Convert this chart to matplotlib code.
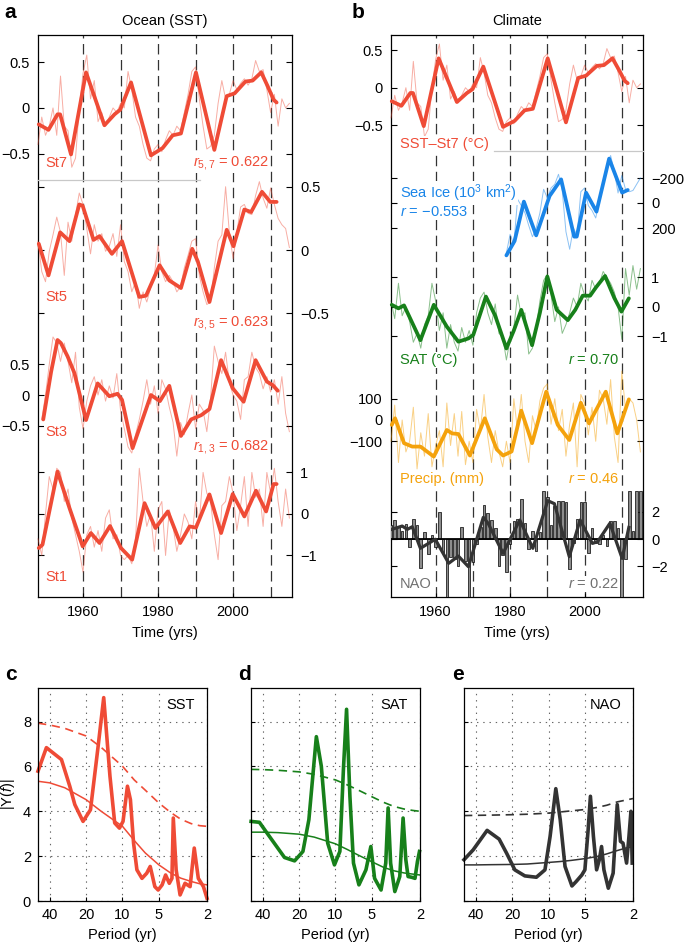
import matplotlib
matplotlib.use('Agg')
import matplotlib.pyplot as plt

plt.rcParams['font.family'] = ['Liberation Sans', 'DejaVu Sans']
plt.rcParams['font.size'] = 10
plt.rcParams['mathtext.fontset'] = 'custom'
plt.rcParams['mathtext.rm'] = 'Liberation Sans'
plt.rcParams['mathtext.it'] = 'Liberation Sans:italic'
plt.rcParams['mathtext.bf'] = 'Liberation Sans:bold'
plt.rcParams['lines.scale_dashes'] = False

# ---------------- data ----------------
years = list(range(1948, 2016))
time_ticks = [1960, 1980, 2000]
dashed_years = [1960, 1970, 1980, 1990, 2000, 2010]

st7_raw = [-0.40, -0.10, -0.30, -0.20, 0.00, -0.30, 0.35, -0.20, -0.25, -0.65,
           -0.55, 0.00, 0.38, 0.58, 0.10, 0.30, -0.15, -0.05, -0.20, -0.10,
           0.00, -0.05, 0.05, 0.00, 0.40, 0.20, -0.10, -0.20, -0.40, -0.55,
           -0.58, -0.45, -0.40, -0.48, -0.35, -0.25, -0.30, -0.20, -0.25, -0.05,
           0.15, 0.40, 0.45, 0.10, -0.20, -0.45, -0.42, -0.30, 0.05, 0.30,
           0.10, 0.15, 0.30, 0.20, 0.27, 0.32, 0.25, 0.32, 0.52, 0.40,
           0.42, 0.20, -0.05, 0.15, -0.20, 0.10, 0.00, 0.05]
st7_sm_yr = [1948.2, 1950.8, 1953.2, 1953.9, 1956.8, 1960.8, 1965.7, 1968.4, 1969.9, 1972.8, 1978.1, 1981.2,
             1983.9, 1986.1, 1990.1, 1995.0, 1998.3, 2000.4, 2003.3, 2005.2, 2007.5, 2009.2, 2010.8, 2011.6]
st7_sm_val = [-0.18, -0.24, -0.07, -0.07, -0.51, 0.39, -0.19, -0.07, -0.02, 0.28, -0.52, -0.44,
              -0.30, -0.28, 0.39, -0.46, 0.13, 0.16, 0.29, 0.30, 0.39, 0.24, 0.09, 0.06]

st5_raw = [0.07, -0.17, -0.25, -0.01, 0.12, 0.26, 0.14, -0.20, 0.22, 0.07,
           0.28, 0.45, 0.36, 0.17, -0.03, 0.20, 0.07, 0.13, -0.01, 0.03,
           0.13, -0.05, 0.20, -0.09, -0.17, -0.33, -0.25, -0.46, -0.33, -0.41,
           -0.30, -0.20, 0.04, -0.17, -0.25, -0.20, -0.25, -0.33, -0.29, -0.14,
           -0.04, 0.07, 0.09, -0.20, -0.33, -0.43, -0.41, -0.14, 0.07, 0.12,
           0.50, 0.14, -0.07, 0.14, 0.34, 0.36, 0.29, 0.28, 0.43, 0.54,
           0.41, 0.33, 0.49, 0.36, 0.25, 0.20, 0.17, 0.02]
st5_sm_yr = [1948.2, 1950.8, 1953.9, 1956.4, 1959.0, 1959.9, 1962.8, 1964.4, 1967.7, 1970.4, 1975.0, 1976.8, 1980.4,
             1983.0, 1986.1, 1989.1, 1990.6, 1993.7, 1998.3, 2000.1, 2003.0, 2004.8, 2007.7, 2009.9, 2011.6]
st5_sm_val = [0.05, -0.20, 0.14, 0.07, 0.36, 0.35, 0.08, 0.11, -0.03, 0.07, -0.37, -0.36, -0.12,
              -0.24, -0.30, 0.01, -0.09, -0.41, 0.16, 0.03, 0.32, 0.30, 0.46, 0.38, 0.38]

st3_years = list(range(1949, 2016))
st3_raw = [-0.40, 0.00, 0.50, 0.95, 0.85, 0.55, 0.85, 0.55, 0.20, 0.70,
           -0.20, -0.55, -0.10, 0.15, 0.30, 0.00, 0.25, -0.10, 0.15, -0.05,
           0.35, -0.25, -0.55, -0.85, -0.95, -0.65, -0.40, -0.10, 0.25, -0.15,
           0.15, -0.30, 0.25, 0.10, -0.20, -0.45, -1.00, -0.45, -0.65, -0.30,
           0.00, -0.55, -0.15, -0.25, -0.60, -0.05, 0.80, 0.55, 0.35, 0.70,
           0.20, 0.00, -0.10, -0.40, 0.25, 0.30, 0.70, 0.45, 0.35, 0.10,
           0.30, 0.05, 0.25, -0.15, 0.30, -0.30, -0.60]
st3_sm_yr = [1949.4, 1951.5, 1953.2, 1954.1, 1955.9, 1957.7, 1960.8, 1963.9, 1967.0, 1969.2, 1970.4, 1973.2, 1978.1,
             1980.5, 1983.0, 1986.1, 1988.8, 1991.5, 1993.7, 1996.8, 1999.9, 2002.8, 2006.0, 2009.0, 2010.6, 2011.9]
st3_sm_val = [-0.40, 0.38, 0.90, 0.85, 0.63, 0.36, -0.41, 0.19, -0.02, 0.02, -0.08, -0.87, 0.00,
              -0.10, 0.15, -0.67, -0.40, -0.33, -0.23, 0.57, 0.11, -0.11, 0.57, 0.22, 0.16, 0.07]

st1_raw = [-0.6, -1.0, 0.0, 0.9, 0.6, 1.1, 1.0, 0.3, 0.6, -0.1,
           -0.5, -0.9, -1.4, -0.5, -0.3, -0.8, -0.4, -0.9, -0.1, 0.1,
           -0.6, -0.5, -1.0, -1.1, -1.0, -1.2, -0.6, 1.1, 0.3, -0.3,
           0.0, -0.9, 0.1, 0.3, -1.0, 0.1, -0.3, -0.9, -0.5, 0.0,
           -0.2, -0.6, 0.3, -0.2, 1.0, 0.5, 0.3, -0.5, -1.1, 0.2,
           0.3, 0.9, 0.5, -0.4, 0.2, 0.9, -0.3, 1.0, 0.4, 0.6,
           -0.3, 1.0, 0.5, 1.1, 0.3, -0.3, 0.6, -0.1]
st1_sm_yr = [1948.2, 1949.2, 1953.2, 1956.4, 1959.9, 1962.1, 1964.4, 1967.2, 1970.1, 1973.1, 1976.4, 1979.3,
             1982.6, 1985.9, 1988.4, 1990.1, 1993.7, 1996.8, 1999.9, 2003.0, 2006.1, 2008.8, 2010.8, 2011.6]
st1_sm_val = [-0.82, -0.74, 1.02, 0.14, -0.78, -0.46, -0.70, -0.29, -0.82, -1.10, 0.26, -0.34,
              0.06, -0.70, -0.30, -0.33, 0.47, -0.46, 0.48, -0.06, 0.56, 0.06, 0.72, 0.72]

ice_years = list(range(1979, 2016))
ice_raw = [400, 250, 330, -30, 20, 80, 180, 270, 200, 80,
           -110, -40, -120, -150, -230, -100, 230, 370, 200, 260,
           -90, -120, 20, 60, 120, -30, -140, -300, -380, -250,
           -80, -220, -110, -90, -100, -150, -200]
ice_sm_yr = [1979.0, 1981.2, 1983.7, 1987.0, 1990.6, 1993.7, 1997.2, 1997.9, 2000.4, 2003.2, 2006.6, 2010.1, 2011.6]
ice_sm_val = [419, 304, -11, 259, -56, -189, 269, 269, -83, 69, -355, -83, -104]

sat_raw = [0.2, -0.4, 0.8, -0.3, 0.0, -0.5, -1.2, -0.9, -1.4, -0.6,
           -0.3, 0.8, 0.2, -0.8, -0.2, -1.4, -0.6, -1.2, -1.5, -0.7,
           -1.2, -0.8, -1.3, -0.2, 0.3, 0.5, -0.2, -0.6, 0.1, -0.9,
           -1.0, -1.8, -1.1, -0.7, 0.4, -0.3, -0.2, -1.6, -1.4, -0.7,
           0.2, 0.9, 1.1, 0.4, -0.5, 0.0, -0.9, -0.6, -0.2, 0.3,
           0.0, 0.8, 0.4, 0.2, 0.9, 0.6, 0.8, 1.2, 1.0, 0.8,
           0.5, 0.0, -1.1, 1.3, 0.4, 1.4, 0.6, 1.3]
sat_sm_yr = [1948.2, 1950.0, 1951.5, 1953.0, 1955.9, 1959.5, 1963.0, 1966.1, 1968.8, 1970.1, 1973.5, 1976.0,
             1979.0, 1981.0, 1983.0, 1985.9, 1988.0, 1990.0, 1992.5, 1995.5, 1997.5, 1999.5, 2001.5, 2003.0,
             2005.5, 2008.0, 2009.9, 2011.9]
sat_sm_val = [0.07, -0.05, 0.05, -0.35, -1.13, 0.07, -0.67, -1.18, -1.07, -0.95, 0.35, -0.30,
              -1.41, -0.80, -0.10, -1.30, -0.20, 1.03, -0.10, -0.45, -0.10, 0.38, 0.38, 0.65,
              1.05, 0.30, -0.16, 0.29]

precip_raw = [-100, 70, -200, 0, -150, -100, 60, -230, -60, -170,
              30, -220, -120, -50, -220, 80, -120, 30, -170, 40,
              -210, -100, -200, 50, -50, 120, -80, -200, -50, -150,
              -220, -100, -200, 100, -50, 120, -100, -200, 20, -50,
              90, 150, 170, -20, 100, -50, 50, -170, -20, 80,
              -220, 120, 80, -70, 60, -100, 140, 100, -20, 190,
              -80, -200, 230, 50, 100, 80, 0, -150]
precip_sm_yr = [1948.2, 1949.1, 1951.5, 1953.7, 1955.9, 1959.5, 1963.0, 1964.4, 1966.1, 1969.2, 1973.2, 1976.4,
                1978.1, 1980.4, 1983.0, 1985.9, 1989.7, 1992.8, 1995.9, 1999.0, 2001.2, 2005.7, 2008.8, 2011.9]
precip_sm_val = [-23, 8, -109, -125, -125, -172, -47, -63, -66, -167, 8, -138,
                 -167, -148, 44, -109, 133, -23, -94, 81, -16, 133, -63, 97]

nao_raw = [1.0, 1.4, 0.9, 0.6, 1.1, -0.6, 1.5, 1.0, -2.1, 0.5,
           -1.1, 0.3, -0.6, 2.0, -1.0, -4.5, -1.3, -1.5, -2.0, 0.9,
           -1.6, -4.5, -1.7, -0.4, 0.9, 2.5, 1.9, 1.4, 0.8, -2.0,
           -1.2, -2.4, -0.4, 1.3, 1.5, 2.9, 1.2, -0.7, 0.6, -0.9,
           0.5, 3.5, 3.1, 1.0, 2.4, 2.8, 2.8, 2.7, -2.2, -0.3,
           1.5, 2.7, 2.7, -1.0, 0.8, -0.3, -0.4, 0.3, -0.5, 1.3,
           1.3, 0.8, -4.6, -1.5, 3.5, 0.6, 3.5, 3.5]
nao_sm_yr = [1948.2, 1951.0, 1952.4, 1953.7, 1955.9, 1959.9, 1963.5, 1966.1, 1968.8, 1972.8, 1974.1, 1978.1,
             1982.6, 1986.1, 1990.1, 1991.9, 1995.9, 1998.8, 2002.1, 2003.5, 2006.8, 2010.1, 2011.9]
nao_sm_val = [0.71, 0.95, 0.71, 0.90, -0.68, -0.02, -1.78, -1.25, -2.03, 1.59, 1.15, -1.05,
              1.39, -0.68, 2.81, 2.59, -1.29, 1.39, -0.32, -0.20, 1.15, -1.42, 0.85]

# spectra (period in years, amplitude |Y(f)|)
period_ticks = [40, 20, 10, 5, 2]
sst_spec_p = [50, 42.6, 32.0, 27.3, 24.8, 21.2, 18.4, 15.9, 14.3, 12.7, 11.6, 10.6, 9.9, 9.1, 8.6, 8.1, 7.6,
              6.9, 6.3, 5.9, 5.4, 5.07, 4.7, 4.4, 4.1, 3.9, 3.8, 3.6, 3.34, 3.04, 2.76, 2.55, 2.36, 2.14, 2.0]
sst_spec_a = [5.79, 6.84, 6.31, 5.12, 4.30, 3.55, 4.07, 6.91, 9.07, 5.57, 3.48, 3.25, 3.55, 5.12, 4.52, 2.58, 1.39,
              1.01, 1.24, 1.54, 0.64, 0.49, 0.72, 1.16, 0.79, 1.01, 3.70, 1.39, 0.27, 0.79, 0.64, 2.36, 1.01, 0.64, 0.12]
ref_p = [50, 40, 30, 20, 15, 10, 8, 6.5, 5, 4, 3.3, 2.7, 2.3, 2.0]
sst_mean_a = [5.34, 5.27, 5.05, 4.52, 4.00, 3.33, 2.70, 2.15, 1.61, 1.25, 1.02, 0.87, 0.77, 0.72]
sst_conf_a = [7.93, 7.85, 7.70, 7.36, 6.85, 6.01, 5.40, 4.95, 4.37, 3.95, 3.65, 3.45, 3.36, 3.33]

sat_spec_p = [49.9, 42.6, 35.2, 26.4, 21.8, 18.6, 16.6, 14.4, 13.1, 11.6, 10.2, 9.2, 8.6, 8.1, 7.6, 7.1, 6.4,
              5.6, 5.1, 4.75, 4.2, 3.84, 3.67, 3.5, 3.23, 2.94, 2.76, 2.62, 2.51, 2.35, 2.2, 2.1, 2.02]
sat_spec_a = [3.55, 3.51, 2.88, 1.94, 1.79, 2.21, 3.63, 7.33, 6.01, 2.58, 1.61, 2.21, 5.87, 8.55, 4.67, 1.69, 0.72,
              1.39, 2.43, 1.01, 0.49, 1.69, 4.15, 1.69, 0.42, 1.09, 3.70, 1.84, 1.09, 1.06, 1.01, 1.76, 2.21]
sat_mean_a = [3.07, 3.07, 3.05, 2.98, 2.85, 2.55, 2.30, 2.05, 1.75, 1.50, 1.35, 1.25, 1.20, 1.16]
sat_conf_a = [5.87, 5.86, 5.83, 5.76, 5.65, 5.40, 5.18, 4.95, 4.65, 4.40, 4.22, 4.10, 4.04, 4.00]

nao_spec_p = [50, 42, 32.2, 25.6, 22.2, 19.0, 15.7, 12.6, 10.7, 9.7, 8.7, 8.0, 7.3, 6.4, 5.9, 5.3, 5.0,
              4.7, 4.5, 4.25, 4.0, 3.8, 3.64, 3.48, 3.2, 2.92, 2.7, 2.54, 2.42, 2.26, 2.16, 2.08, 2.03]
nao_spec_a = [1.84, 2.28, 3.15, 2.76, 2.13, 1.39, 1.12, 1.06, 1.39, 2.88, 5.01, 3.63, 1.54, 0.67, 0.87, 1.16, 1.39,
              3.18, 4.67, 2.88, 1.39, 1.84, 2.43, 1.39, 0.57, 1.24, 4.30, 2.66, 2.58, 1.69, 2.88, 4.00, 1.69]
nao_mean_a = [1.61, 1.61, 1.62, 1.63, 1.65, 1.72, 1.76, 1.81, 1.89, 1.98, 2.10, 2.25, 2.36, 2.43]
nao_conf_a = [3.81, 3.82, 3.83, 3.85, 3.87, 3.92, 3.97, 4.02, 4.08, 4.17, 4.27, 4.42, 4.50, 4.57]

# ---------------- style ----------------
RED = '#EF4B36'
BLUE = '#1A85E8'
GREEN = '#17801A'
ORANGE = '#F4A20C'
DARK = '#333333'
GRAYTXT = '#707070'

W, H = 685, 946
fig = plt.figure(figsize=(W / 100, H / 100), dpi=100)
XLIM = (1948, 2015.7)


def box(x0, y0, x1, y1):
    return [x0 / W, 1 - y1 / H, (x1 - x0) / W, (y1 - y0) / H]


def ftext(x, y, s, **kw):
    kw.setdefault('va', 'center')
    return fig.text(x / W, 1 - y / H, s, **kw)


def fmt(v):
    return f'{v:g}'.replace('-', '\u2212')


def frame(x0, x1):
    ax = fig.add_axes(box(x0, 35, x1, 597))
    ax.set_xlim(*XLIM)
    ax.set_ylim(0, 1)
    ax.set_yticks([])
    ax.set_xticks(time_ticks)
    ax.set_xticklabels([str(t) for t in time_ticks])
    ax.tick_params(axis='x', direction='in', length=3, pad=6, labelsize=10.5)
    for yr in dashed_years:
        ax.axvline(yr, color=DARK, lw=0.9, ls=(0, (7.5, 4)), zorder=1)
    for s in ax.spines.values():
        s.set_linewidth(0.9)
    ax.set_xlabel('Time (yrs)', fontsize=10.5, labelpad=5)
    return ax


def sub(x0, x1, y0, y1, ylim, ticks, side):
    ax = fig.add_axes(box(x0, y0, x1, y1))
    ax.set_xlim(*XLIM)
    ax.set_ylim(*ylim)
    ax.patch.set_visible(False)
    for s in ax.spines.values():
        s.set_visible(False)
    ax.set_xticks([])
    ax.set_yticks(ticks)
    ax.set_yticklabels([fmt(t) for t in ticks])
    ax.tick_params(axis='y', direction='in', length=4, width=0.8, left=True, right=True,
                   labelleft=(side == 'left'), labelright=(side == 'right'), pad=6, labelsize=10.5)
    return ax


def series(ax, x, raw, sx, sv, color, thin_alpha=0.45):
    ax.plot(x, raw, color=color, lw=0.7, alpha=thin_alpha, clip_on=False)
    ax.plot(sx, sv, color=color, lw=2.7, clip_on=False, solid_joinstyle='round', solid_capstyle='round')


# ---------------- panel a ----------------
frame(38, 292)
ax = sub(38, 292, 35, 180, (-0.79, 0.80), [-0.5, 0, 0.5], 'left')
series(ax, years, st7_raw, st7_sm_yr, st7_sm_val, RED)
ax = sub(38, 292, 180, 340, (-0.71, 0.553), [-0.5, 0, 0.5], 'right')
ax.spines['top'].set_visible(True)
ax.spines['top'].set_color('#c8c8c8')
ax.spines['top'].set_linewidth(0.9)
ax.spines['top'].set_bounds(1948, 1991.2)
series(ax, years, st5_raw, st5_sm_yr, st5_sm_val, RED)
ax = sub(38, 292, 340, 450, (-0.90, 0.90), [-0.5, 0, 0.5], 'left')
series(ax, st3_years, st3_raw, st3_sm_yr, st3_sm_val, RED)
ax = sub(38, 292, 450, 597, (-2.0, 1.54), [-1, 0, 1], 'right')
series(ax, years, st1_raw, st1_sm_yr, st1_sm_val, RED)

# ---------------- panel b ----------------
frame(391, 643)
ax = sub(391, 643, 35, 151, (-0.84, 0.70), [-0.5, 0, 0.5], 'left')
series(ax, years, st7_raw, st7_sm_yr, st7_sm_val, RED)
ax = sub(391, 643, 151, 265, (496, -416), [-200, 0, 200], 'right')
ax.spines['top'].set_visible(True)
ax.spines['top'].set_color('#c8c8c8')
ax.spines['top'].set_linewidth(0.9)
ax.spines['top'].set_bounds(1975.7, 2015.7)
series(ax, ice_years, ice_raw, ice_sm_yr, ice_sm_val, BLUE, 0.5)
ax = sub(391, 643, 265, 370, (-2.14, 1.42), [-1, 0, 1], 'right')
series(ax, years, sat_raw, sat_sm_yr, sat_sm_val, GREEN, 0.5)
ax = sub(391, 643, 370, 487, (-315, 235), [-100, 0, 100], 'left')
series(ax, years, precip_raw, precip_sm_yr, precip_sm_val, ORANGE, 0.5)
ax = sub(391, 643, 491, 597, (-4.25, 3.52), [-2, 0, 2], 'right')
ax.bar(years, nao_raw, width=0.7, color='#8c8c8c', edgecolor='black', linewidth=0.5, zorder=2)
ax.axhline(0, color='black', lw=1.3, zorder=3)
ax.plot(nao_sm_yr, nao_sm_val, color=DARK, lw=2.3, zorder=4, solid_joinstyle='round')


# ---------------- spectra ----------------
def spec(x0, x1, color, sp, sa, ma, ca, name, ylabels):
    ax = fig.add_axes(box(x0, 688, x1, 901))
    ax.set_xscale('log')
    ax.set_xlim(50, 2)
    ax.set_ylim(0, 9.5)
    ax.set_xticks(period_ticks)
    ax.set_xticklabels([str(p) for p in period_ticks])
    ax.minorticks_off()
    ax.set_yticks([0, 2, 4, 6, 8])
    if not ylabels:
        ax.set_yticklabels([])
    ax.tick_params(direction='in', length=3, width=0.8, labelsize=10.5, pad=5)
    ax.grid(True, ls=(0, (1, 3.5)), color='#666666', lw=0.8)
    for s in ax.spines.values():
        s.set_linewidth(0.9)
    ax.plot(ref_p, ca, color=color, lw=1.2, ls=(0, (6, 4)))
    ax.plot(ref_p, ma, color=color, lw=1.1)
    ax.plot(sp, sa, color=color, lw=2.6, solid_joinstyle='round', clip_on=False)
    ax.set_xlabel('Period (yr)', fontsize=10.5, labelpad=4)
    ax.text(0.93, 0.92, name, transform=ax.transAxes, ha='right', va='center', fontsize=10.5)
    return ax


axc = spec(38, 207, RED, sst_spec_p, sst_spec_a, sst_mean_a, sst_conf_a, 'SST', True)
axc.set_ylabel('|Y($f$)|', fontsize=10.5, labelpad=4)
spec(251, 420, GREEN, sat_spec_p, sat_spec_a, sat_mean_a, sat_conf_a, 'SAT', False)
spec(464, 633, DARK, nao_spec_p, nao_spec_a, nao_mean_a, nao_conf_a, 'NAO', False)

# ---------------- text ----------------
bb = dict(facecolor='white', edgecolor='none', pad=1.0)
ftext(4, 13, 'a', fontsize=15, fontweight='bold')
ftext(352, 13, 'b', fontsize=15, fontweight='bold')
ftext(5, 675, 'c', fontsize=15, fontweight='bold')
ftext(238, 675, 'd', fontsize=15, fontweight='bold')
ftext(452, 675, 'e', fontsize=15, fontweight='bold')
ftext(165, 21, 'Ocean (SST)', ha='center', fontsize=10.5)
ftext(517, 21, 'Climate', ha='center', fontsize=10.5)

ftext(45, 163, 'St7', color=RED, fontsize=10.5, bbox=bb)
ftext(269, 163, '$r_{5,7}$ = 0.622', color=RED, fontsize=10.5, ha='right', bbox=bb)
ftext(45, 297, 'St5', color=RED, fontsize=10.5, bbox=bb)
ftext(269, 323, '$r_{3,5}$ = 0.623', color=RED, fontsize=10.5, ha='right', bbox=bb)
ftext(45, 432, 'St3', color=RED, fontsize=10.5, bbox=bb)
ftext(269, 447, '$r_{1,3}$ = 0.682', color=RED, fontsize=10.5, ha='right', bbox=bb)
ftext(45, 577, 'St1', color=RED, fontsize=10.5, bbox=bb)

ftext(400, 144, 'SST\u2013St7 (\u00b0C)', color=RED, fontsize=10.5, bbox=bb)
ftext(400, 193, 'Sea Ice (10$^3$ km$^2$)', color=BLUE, fontsize=10.5, bbox=bb)
ftext(400, 212, '$r$ = \u22120.553', color=BLUE, fontsize=10.5, bbox=bb)
ftext(400, 360, 'SAT (\u00b0C)', color=GREEN, fontsize=10.5, bbox=bb)
ftext(619, 360, '$r$ = 0.70', color=GREEN, fontsize=10.5, ha='right', bbox=bb)
ftext(400, 479, 'Precip. (mm)', color=ORANGE, fontsize=10.5, bbox=bb)
ftext(619, 479, '$r$ = 0.46', color=ORANGE, fontsize=10.5, ha='right', bbox=bb)
ftext(400, 584, 'NAO', color=GRAYTXT, fontsize=10.5, bbox=bb)
ftext(619, 584, '$r$ = 0.22', color=GRAYTXT, fontsize=10.5, ha='right', bbox=bb)

fig.savefig('out.png', dpi=100)
